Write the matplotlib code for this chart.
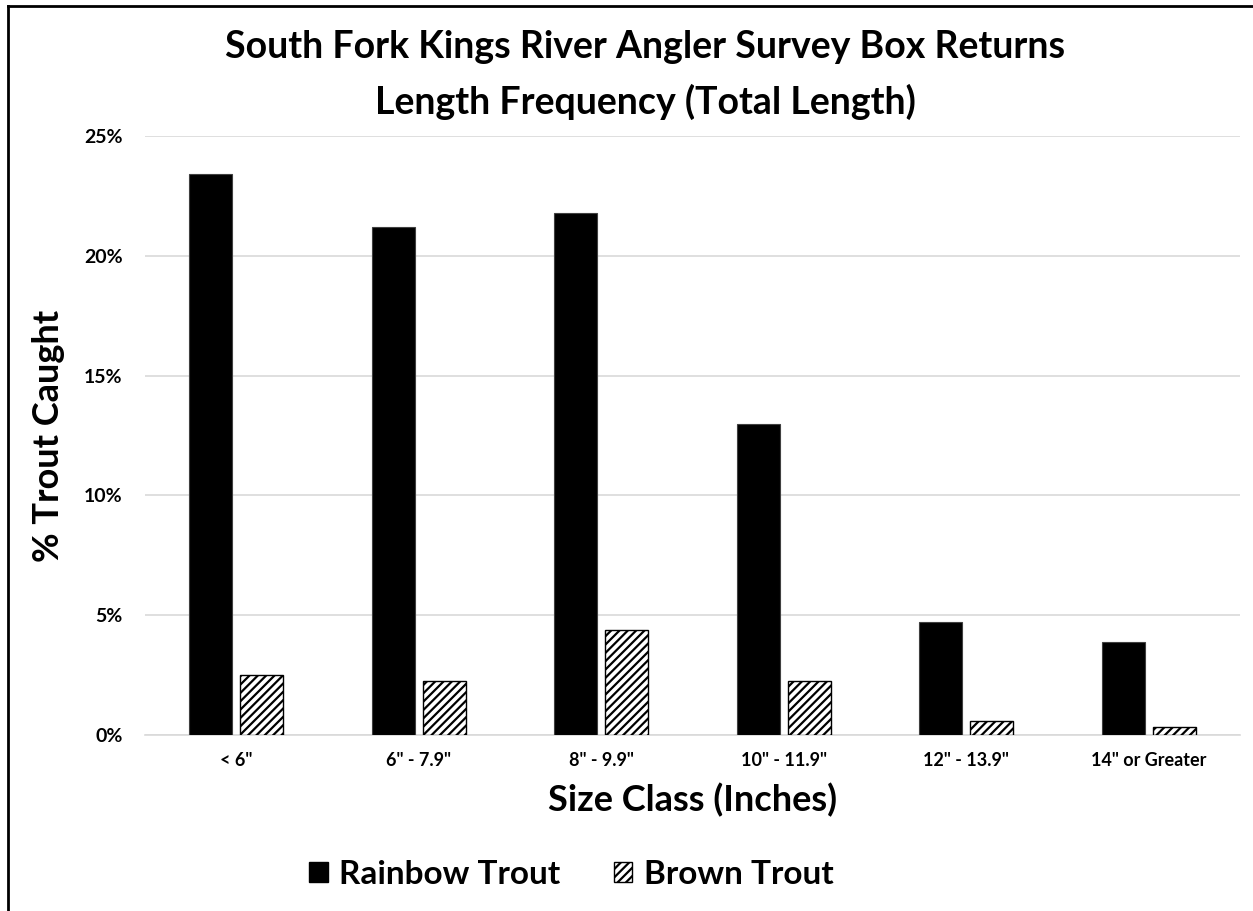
import numpy as np
import matplotlib
matplotlib.use("Agg")
import matplotlib.pyplot as plt
from matplotlib.patches import Patch
from matplotlib.lines import Line2D

plt.rcParams['font.family'] = ['Lato', 'DejaVu Sans']
plt.rcParams['font.weight'] = 'bold'
plt.rcParams['hatch.linewidth'] = 1.6

# data (fraction of trout caught)
size_classes = ['< 6"', '6" - 7.9"', '8" - 9.9"', '10" - 11.9"', '12" - 13.9"', '14" or Greater']
rainbow = [0.234, 0.212, 0.218, 0.130, 0.047, 0.039]
brown = [0.025, 0.0225, 0.044, 0.0225, 0.006, 0.0033]
y_ticks = [0, 0.05, 0.10, 0.15, 0.20, 0.25]
y_tick_labels = ['0%', '5%', '10%', '15%', '20%', '25%']

fig = plt.figure(figsize=(12.53, 9.11), dpi=100)
ax = fig.add_axes([0.1157, 0.1932, 0.874, 0.6575])

x = np.arange(len(size_classes))
w = 0.236
off = 0.14
ax.bar(x - off, rainbow, w, color='black', edgecolor='#404040', linewidth=0.8, zorder=3)
ax.bar(x + off, brown, w, color='white', edgecolor='black', hatch='////', linewidth=1.0, zorder=3)

ax.set_xlim(-0.5, len(size_classes) - 0.5)
ax.set_ylim(0, 0.25)
ax.set_yticks(y_ticks)
ax.set_yticklabels(y_tick_labels, fontsize=14, fontweight='bold')
ax.set_xticks(x)
ax.set_xticklabels(size_classes, fontsize=13, fontweight='bold')
ax.tick_params(axis='y', length=0, pad=16)
ax.tick_params(axis='x', length=0, pad=12)
ax.yaxis.grid(True, color='#d9d9d9', linewidth=1.2, zorder=0)
for s in ['top', 'right', 'left']:
    ax.spines[s].set_visible(False)
ax.spines['bottom'].set_color('#d9d9d9')
ax.spines['bottom'].set_linewidth(1.2)

ax.set_ylabel('% Trout Caught', fontsize=26, fontweight='bold', labelpad=14)
ax.set_xlabel('Size Class (Inches)', fontsize=26, fontweight='bold', labelpad=10)

fig.text(0.515, 0.948, 'South Fork Kings River Angler Survey Box Returns',
         ha='center', va='center', fontsize=27, fontweight='bold')
fig.text(0.515, 0.888, 'Length Frequency (Total Length)',
         ha='center', va='center', fontsize=27, fontweight='bold')

handles = [Patch(facecolor='black', edgecolor='black', label='Rainbow Trout'),
           Patch(facecolor='white', edgecolor='black', hatch='////', label='Brown Trout')]
fig.legend(handles=handles, loc='center', bbox_to_anchor=(0.456, 0.04), ncol=2,
           frameon=False, prop={'size': 24, 'weight': 'bold'},
           handlelength=0.55, handleheight=0.55, handletextpad=0.35, columnspacing=1.6)

# border lines on top and left
fig.add_artist(Line2D([0.0065, 0.0065], [0, 0.9935], color='black', linewidth=2, transform=fig.transFigure))
fig.add_artist(Line2D([0.0065, 1], [0.9935, 0.9935], color='black', linewidth=2, transform=fig.transFigure))

fig.savefig('out.png', dpi=100)
